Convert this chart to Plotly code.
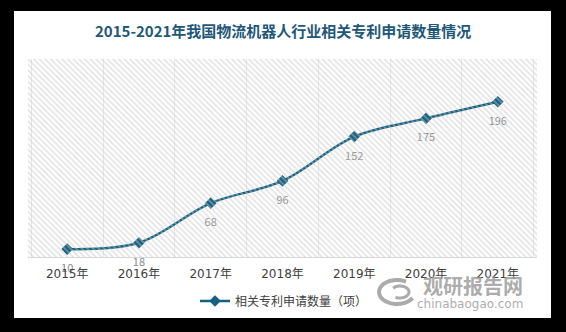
import math
import plotly.graph_objects as go

# Patent application counts for logistics robots in China, 2015-2021
years = ["2015年", "2016年", "2017年", "2018年", "2019年", "2020年", "2021年"]
applications = [10, 18, 68, 96, 152, 175, 196]

title_text = "2015-2021年我国物流机器人行业相关专利申请数量情况"
series_name = "相关专利申请数量（项）"

W, H = 566, 332
L, R, T, B = 28, 29, 59, 75
PW, PH = W - L - R, H - T - B


def px_x(px):
    return (px - L) / PW


def px_y(py):
    return (H - B - py) / PH


LINE_COLOR = "#15607F"
FONT = "Noto Sans CJK SC"
WIDE_FONT = "DejaVu Sans, Noto Sans CJK SC"
MARK_GRAY = "rgba(150,150,150,0.8)"

fig = go.Figure()

# diagonal hatch across the whole plotting area (own overlay axes)
fig.add_trace(go.Bar(
    x=[0.5], y=[1], width=[1],
    xaxis="x2", yaxis="y2",
    marker=dict(
        color="rgba(0,0,0,0)",
        line=dict(width=0),
        pattern=dict(shape="\\", size=4, solidity=0.45,
                     fgcolor="#c9c9c9", bgcolor="rgba(0,0,0,0)"),
    ),
    hoverinfo="skip", showlegend=False,
))

fig.add_trace(go.Scatter(
    x=years, y=applications,
    mode="lines+markers",
    name=series_name,
    line=dict(color=LINE_COLOR, width=2.5, shape="spline", smoothing=1),
    marker=dict(symbol="diamond", size=9, color=LINE_COLOR),
    cliponaxis=False,
))

# value labels, pushed a little further below each point
fig.add_trace(go.Scatter(
    x=years, y=applications,
    mode="markers+text",
    marker=dict(size=22, color="rgba(0,0,0,0)"),
    text=[str(v) for v in applications],
    textposition="bottom center",
    textfont=dict(family=FONT, size=11, color="#8a8a8a"),
    cliponaxis=False,
    hoverinfo="skip", showlegend=False,
))


def arc_path(cx, cy, rx, ry, a0, a1, n=24):
    pts = []
    for i in range(n + 1):
        a = math.radians(a0 + (a1 - a0) * i / n)
        pts.append((px_x(cx + rx * math.cos(a)), px_y(cy - ry * math.sin(a))))
    return "M " + " L ".join(f"{x:.4f},{y:.4f}" for x, y in pts)


shapes = [
    # white card on the dark backdrop
    dict(type="rect", xref="paper", yref="paper",
         x0=px_x(14), x1=px_x(551), y0=px_y(318), y1=px_y(11),
         fillcolor="white", line=dict(width=0), layer="below"),
    # swirl of the logo
    dict(type="path", xref="paper", yref="paper",
         path=arc_path(397, 292, 18, 12, 60, 330),
         line=dict(color=MARK_GRAY, width=4)),
    dict(type="path", xref="paper", yref="paper",
         path=arc_path(400, 292, 9, 6, 240, 500),
         line=dict(color=MARK_GRAY, width=3)),
]

annotations = [
    dict(text=title_text, xref="paper", yref="paper",
         x=px_x(283), y=px_y(31), xanchor="center", yanchor="middle",
         showarrow=False,
         font=dict(family=FONT, size=15, color="#1F5878", weight="bold")),
    dict(text="<b>观研报告网</b>", xref="paper", yref="paper",
         x=px_x(473), y=px_y(285), xanchor="center", yanchor="middle",
         showarrow=False,
         font=dict(family=FONT, size=20, color=MARK_GRAY)),
    dict(text="chinabaogao.com", xref="paper", yref="paper",
         x=px_x(470), y=px_y(304), xanchor="center", yanchor="middle",
         showarrow=False,
         font=dict(family="DejaVu Sans", size=12, color=MARK_GRAY)),
]

fig.update_layout(
    width=W, height=H,
    margin=dict(l=L, r=R, t=T, b=B, pad=0),
    paper_bgcolor="black",
    plot_bgcolor="white",
    font=dict(family=FONT, color="#404040"),
    showlegend=True,
    legend=dict(orientation="h", x=px_x(284), y=px_y(301),
                xanchor="center", yanchor="middle",
                font=dict(family=FONT, size=12, color="#404040"),
                bgcolor="rgba(0,0,0,0)"),
    xaxis=dict(type="category", showgrid=True, tickson="boundaries",
               gridcolor="#e8e8e8", gridwidth=1,
               showline=True, linecolor="#d9d9d9", linewidth=1,
               ticks="", ticklabelstandoff=6,
               tickfont=dict(family=WIDE_FONT, size=12, color="#404040"),
               zeroline=False, fixedrange=True),
    yaxis=dict(range=[0, 250], visible=False, showgrid=False,
               zeroline=False, fixedrange=True),
    xaxis2=dict(range=[0, 1], overlaying="x", visible=False, fixedrange=True),
    yaxis2=dict(range=[0, 1], overlaying="y", visible=False, fixedrange=True),
    shapes=shapes,
    annotations=annotations,
    bargap=0,
)

fig.write_html("out.html")
